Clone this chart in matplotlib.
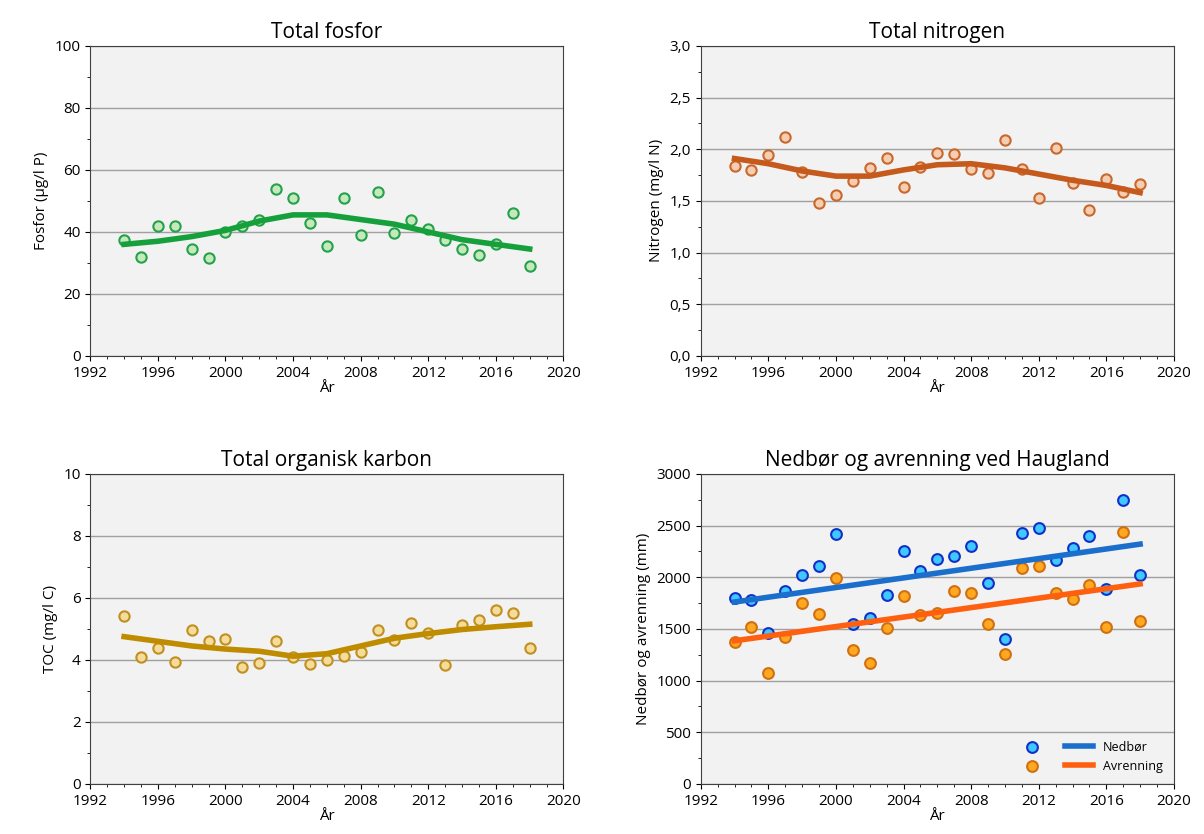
import matplotlib
matplotlib.use("Agg")
import matplotlib.pyplot as plt
import numpy as np
from matplotlib.ticker import FuncFormatter, MultipleLocator

plt.rcParams['font.family'] = ['Open Sans', 'DejaVu Sans']

years = list(range(1994, 2019))
trend_years = list(range(1994, 2019, 2))

fosfor = [37.5, 32, 42, 42, 34.5, 31.5, 40, 42, 44, 54, 51, 43, 35.5, 51, 39, 53, 39.5, 44, 41, 37.5, 34.5, 32.5, 36, 46, 29]
fosfor_trend = [36, 37, 38.5, 40.5, 43.5, 45.5, 45.5, 44, 42.5, 40, 37.5, 36, 34.5]

nitrogen = [1.84, 1.80, 1.94, 2.12, 1.78, 1.48, 1.56, 1.69, 1.82, 1.92, 1.63, 1.83, 1.96, 1.95, 1.81, 1.77, 2.09, 1.81, 1.53, 2.01, 1.67, 1.41, 1.71, 1.59, 1.66]
nitrogen_trend = [1.91, 1.86, 1.79, 1.74, 1.74, 1.80, 1.85, 1.86, 1.82, 1.76, 1.70, 1.65, 1.58]

toc = [5.42, 4.1, 4.4, 3.92, 4.98, 4.62, 4.68, 3.76, 3.9, 4.62, 4.1, 3.86, 4.0, 4.12, 4.26, 4.98, 4.64, 5.18, 4.88, 3.84, 5.14, 5.3, 5.6, 5.5, 4.4]
toc_trend = [4.75, 4.6, 4.45, 4.35, 4.28, 4.12, 4.2, 4.45, 4.7, 4.85, 4.98, 5.07, 5.15]

nedbor = [1800, 1775, 1460, 1870, 2020, 2110, 2420, 1550, 1610, 1830, 2250, 2060, 2180, 2210, 2300, 1940, 1400, 2430, 2480, 2170, 2280, 2400, 1890, 2750, 2020]
avrenning = [1370, 1520, 1070, 1420, 1750, 1640, 1990, 1300, 1170, 1510, 1820, 1630, 1650, 1870, 1850, 1550, 1260, 2090, 2110, 1850, 1790, 1920, 1520, 2440, 1580]
nedbor_line = [1760, 2320]
avrenning_line = [1385, 1935]

fig, axes = plt.subplots(2, 2, figsize=(12.04, 8.34), dpi=100)
plt.subplots_adjust(left=0.075, right=0.975, top=0.945, bottom=0.06, hspace=0.38, wspace=0.29)

def style(ax, title, ylabel, ymax, ystep, fmt=None):
    ax.set_facecolor('#f2f2f2')
    ax.set_xlim(1992, 2020)
    ax.set_ylim(0, ymax)
    ax.set_xticks(range(1992, 2021, 4))
    ax.yaxis.set_major_locator(MultipleLocator(ystep))
    ax.yaxis.set_minor_locator(MultipleLocator(ystep / 2))
    ax.xaxis.set_minor_locator(MultipleLocator(1))
    ax.grid(axis='y', which='major', color='#a0a0a0', lw=1)
    ax.set_axisbelow(True)
    ax.set_title(title, fontsize=15)
    ax.set_ylabel(ylabel, fontsize=11)
    ax.set_xlabel('År', fontsize=11, labelpad=0)
    ax.tick_params(labelsize=11)
    if fmt:
        ax.yaxis.set_major_formatter(FuncFormatter(fmt))
    for s in ax.spines.values():
        s.set_color('#404040')

ax = axes[0, 0]
style(ax, 'Total fosfor', 'Fosfor (µg/l P)', 100, 20)
ax.scatter(years, fosfor, s=55, facecolor='#c6e8bd', edgecolor='#24a24a', lw=1.5, zorder=3)
ax.plot(trend_years, fosfor_trend, color='#16a03c', lw=4, zorder=4)

ax = axes[0, 1]
style(ax, 'Total nitrogen', 'Nitrogen (mg/l N)', 3.0, 0.5, lambda v, p: f'{v:.1f}'.replace('.', ','))
ax.scatter(years, nitrogen, s=55, facecolor='#f6cdb0', edgecolor='#c8682c', lw=1.5, zorder=3)
ax.plot(trend_years, nitrogen_trend, color='#c55a1c', lw=4, zorder=4)

ax = axes[1, 0]
style(ax, 'Total organisk karbon', 'TOC (mg/l C)', 10, 2)
ax.scatter(years, toc, s=55, facecolor='#f5dc9a', edgecolor='#c09020', lw=1.5, zorder=3)
ax.plot(trend_years, toc_trend, color='#bf8c00', lw=4, zorder=4)

ax = axes[1, 1]
style(ax, 'Nedbør og avrenning ved Haugland', 'Nedbør og avrenning (mm)', 3000, 500)
ax.scatter(years, nedbor, s=60, facecolor='#3ec8ff', edgecolor='#1030c8', lw=1.5, zorder=3, label=' ')
ax.scatter(years, avrenning, s=60, facecolor='#ffa820', edgecolor='#d07010', lw=1.5, zorder=3, label='  ')
l1, = ax.plot([1994, 2018], nedbor_line, color='#1a6fcc', lw=4, zorder=4)
l2, = ax.plot([1994, 2018], avrenning_line, color='#ff6010', lw=4, zorder=4)
h = ax.get_legend_handles_labels()[0]
ax.legend([(h[0], l1), (h[1], l2)], ['Nedbør', 'Avrenning'], loc='lower right', frameon=False, fontsize=9,
          handler_map={tuple: matplotlib.legend_handler.HandlerTuple(ndivide=None, pad=1.5)}, handlelength=6)

fig.savefig('out.png')
